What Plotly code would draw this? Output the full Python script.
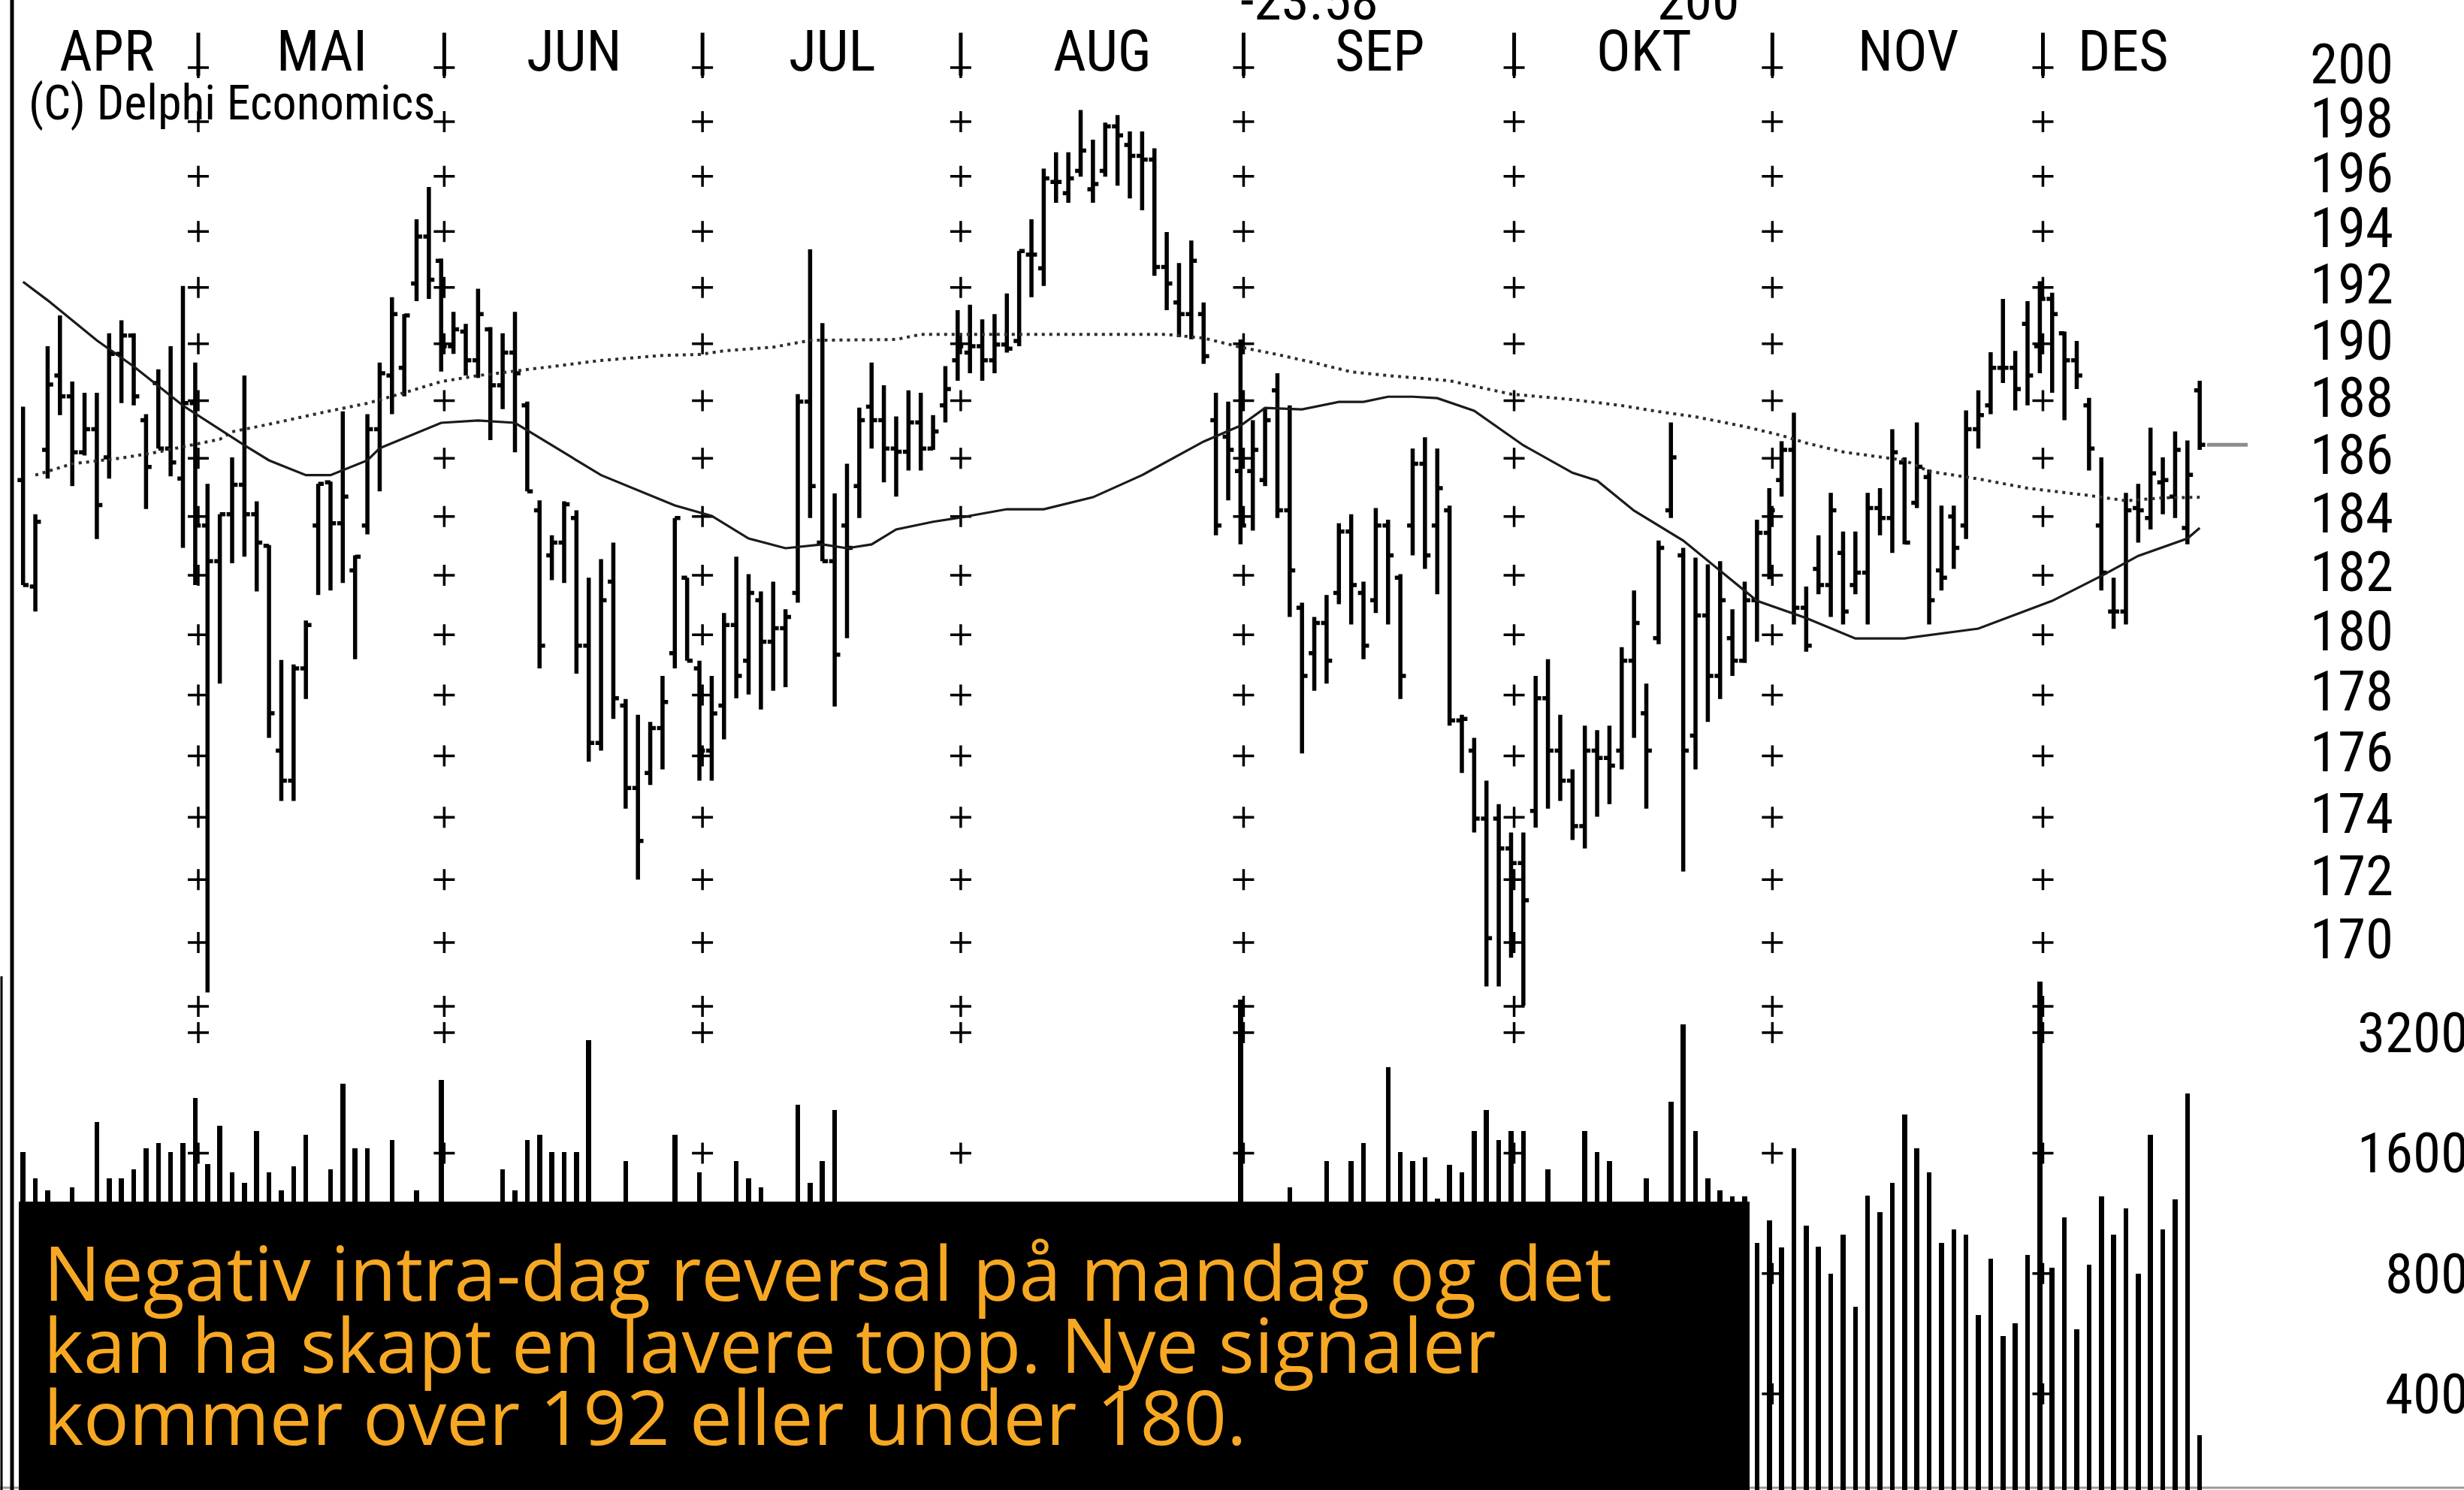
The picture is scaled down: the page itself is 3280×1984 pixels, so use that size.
import math
import plotly.graph_objects as go

W, H = 3280, 1984

# ---------------- data ----------------
months = ["APR", "MAI", "JUN", "JUL", "AUG", "SEP", "OKT", "NOV", "DES"]
month_days = [15, 20, 21, 21, 23, 22, 21, 22, 13]

high = [187.79, 184.08, 189.91, 191.00, 188.67, 188.28, 188.28, 190.37, 190.83, 190.37,
        187.53, 189.10, 189.91, 192.05, 189.34, 185.12, 184.08, 186.03, 188.88, 184.52,
        183.03, 179.16, 179.01, 180.48, 185.12, 185.20, 187.63, 182.68, 187.53, 189.34,
        191.65, 191.05, 194.44, 195.61, 193.03, 191.13, 190.70, 191.95, 190.59, 190.37,
        191.13, 187.97, 184.55, 183.36, 184.52, 184.21, 181.92, 182.55, 183.11, 177.87,
        177.35, 177.11, 178.63, 183.95, 181.92, 179.14, 178.63, 180.73, 182.63, 182.04,
        181.46, 181.79, 180.86, 188.23, 193.36, 190.73, 184.79, 185.81, 187.76, 189.34,
        188.54, 187.45, 188.36, 188.28, 187.50, 189.21, 191.19, 191.38, 190.86, 191.05,
        191.78, 193.30, 194.44, 196.28, 196.88, 196.88, 198.43, 197.34, 197.97, 198.24,
        197.64, 197.64, 197.02, 193.98, 192.87, 193.68, 191.46, 188.28, 187.97, 190.15,
        187.32, 187.76, 188.96, 187.84, 181.08, 180.60, 181.34, 183.77, 184.08, 181.79,
        184.29, 183.89, 182.04, 186.34, 186.73, 186.34, 184.37, 177.35, 176.59, 175.19,
        174.43, 173.51, 173.51, 178.63, 179.19, 177.35, 175.56, 176.99, 176.84, 176.99,
        179.59, 181.49, 178.38, 183.18, 187.24, 182.93, 182.60, 182.37, 182.48, 180.86,
        181.79, 183.89, 184.97, 186.59, 187.58, 181.62, 183.36, 184.81, 183.49, 183.49,
        184.81, 184.97, 187.01, 186.03, 187.24, 185.61, 184.37, 184.37, 187.66, 188.36,
        189.70, 191.59, 189.75, 191.51, 192.22, 191.81, 190.43, 190.10, 188.10, 186.03,
        181.92, 184.81, 185.12, 187.06, 186.03, 186.93, 186.62, 188.70]

low = [181.67, 180.78, 185.30, 187.50, 185.04, 186.10, 183.23, 185.30, 187.92, 187.84,
       184.26, 186.34, 185.38, 182.93, 181.67, 168.43, 178.38, 182.41, 182.63, 181.46,
       176.59, 174.53, 174.53, 177.87, 181.34, 181.49, 181.74, 179.19, 183.39, 184.86,
       187.53, 188.15, 191.51, 191.59, 189.02, 189.64, 188.88, 188.80, 186.63, 187.71,
       186.21, 184.86, 178.88, 181.84, 181.74, 178.71, 175.81, 176.17, 177.21, 174.28,
       172.00, 175.05, 175.56, 178.88, 179.14, 175.19, 175.19, 176.54, 177.89, 178.02,
       177.52, 178.14, 178.26, 181.08, 183.95, 182.48, 177.62, 179.89, 183.95, 186.34,
       185.17, 184.68, 185.58, 185.58, 186.29, 187.24, 188.70, 188.96, 188.70, 188.96,
       189.69, 189.91, 191.65, 192.05, 195.04, 195.04, 195.99, 195.04, 195.99, 195.66,
       195.20, 194.77, 192.41, 191.19, 190.24, 190.16, 189.29, 183.36, 184.55, 183.05,
       183.52, 185.04, 183.95, 180.60, 176.08, 178.14, 178.38, 181.03, 180.35, 179.19,
       180.73, 180.35, 177.87, 182.68, 182.22, 181.36, 176.99, 175.44, 173.51, 168.62,
       168.62, 169.52, 168.02, 173.67, 174.28, 174.53, 173.27, 173.00, 174.02, 174.43,
       175.56, 176.59, 174.28, 179.69, 183.95, 172.26, 175.56, 177.11, 177.87, 178.63,
       179.06, 179.77, 181.87, 184.68, 180.35, 179.44, 181.36, 180.60, 180.35, 181.36,
       180.35, 183.36, 182.76, 183.05, 184.29, 180.35, 181.49, 182.22, 183.23, 186.34,
       187.53, 188.62, 187.66, 187.84, 188.96, 188.28, 187.32, 188.41, 185.58, 181.49,
       180.20, 180.35, 183.11, 183.56, 184.08, 183.95, 183.05, 186.29]

open_ = [185.25, 181.62, 186.29, 188.88, 188.15, 186.21, 187.01, 186.03, 189.64, 190.29,
         187.32, 188.62, 186.34, 185.30, 187.92, 183.69, 182.48, 184.08, 185.09, 184.08,
         183.00, 176.17, 175.19, 178.88, 183.69, 185.17, 183.77, 182.17, 183.69, 187.01,
         188.88, 189.15, 192.14, 193.82, 192.95, 189.91, 190.43, 189.42, 190.51, 188.54,
         189.69, 187.84, 184.21, 182.68, 183.11, 183.95, 179.64, 176.42, 181.79, 177.65,
         174.95, 175.44, 176.91, 179.39, 181.92, 178.88, 176.17, 177.65, 180.33, 179.14,
         181.16, 179.77, 180.22, 181.41, 187.97, 183.11, 182.48, 183.69, 185.04, 187.79,
         187.32, 186.34, 186.23, 187.24, 186.34, 187.84, 189.42, 189.69, 189.91, 189.42,
         189.97, 190.10, 193.17, 192.68, 195.80, 195.39, 196.20, 195.53, 196.20, 197.83,
         197.15, 196.75, 196.61, 192.73, 191.46, 191.05, 191.05, 187.32, 186.75, 185.56,
         185.56, 185.25, 188.36, 184.21, 180.91, 179.39, 180.40, 181.41, 183.49, 181.41,
         181.16, 183.69, 181.92, 183.69, 185.81, 183.69, 184.21, 177.16, 176.17, 173.96,
         173.96, 173.00, 172.53, 174.21, 177.89, 176.17, 175.19, 173.72, 176.17, 175.93,
         176.17, 179.14, 177.40, 179.89, 184.21, 182.68, 176.66, 180.65, 178.63, 179.89,
         179.14, 181.16, 183.44, 185.25, 186.29, 180.91, 182.22, 181.67, 182.76, 181.67,
         182.09, 184.29, 183.95, 185.86, 184.47, 185.35, 182.17, 184.00, 183.69, 187.01,
         187.84, 189.15, 189.15, 190.70, 189.91, 191.59, 190.37, 189.42, 187.84, 183.69,
         180.78, 180.78, 184.29, 183.95, 185.17, 184.68, 183.61, 188.36]

close = [181.67, 183.82, 188.57, 188.15, 186.21, 187.01, 184.39, 189.64, 190.29, 188.15,
         185.70, 186.34, 185.86, 187.92, 183.69, 182.48, 184.08, 185.09, 184.08, 183.11,
         177.40, 175.19, 178.88, 180.33, 185.12, 183.77, 184.68, 182.63, 187.01, 188.96,
         191.05, 191.00, 193.82, 192.27, 189.91, 190.51, 189.42, 191.05, 188.54, 189.69,
         188.96, 184.86, 179.64, 183.11, 184.42, 179.64, 176.42, 181.16, 177.89, 174.95,
         173.24, 176.91, 177.77, 183.95, 179.14, 176.17, 177.39, 180.33, 178.63, 181.41,
         179.77, 180.22, 180.60, 187.97, 185.04, 182.48, 179.34, 182.93, 187.32, 187.32,
         186.34, 186.23, 187.24, 186.34, 186.93, 188.41, 189.91, 189.91, 189.42, 189.97,
         189.83, 193.30, 193.17, 195.93, 195.80, 195.93, 196.94, 195.72, 197.83, 197.50,
         196.75, 196.61, 192.73, 192.14, 191.05, 192.95, 189.56, 183.69, 186.29, 183.69,
         186.29, 187.32, 184.21, 182.17, 178.63, 180.40, 179.14, 183.49, 181.67, 179.64,
         183.69, 182.68, 178.63, 185.81, 182.68, 184.97, 177.16, 177.21, 173.96, 170.14,
         173.00, 172.53, 171.34, 177.89, 176.17, 175.19, 173.72, 176.17, 175.93, 175.68,
         179.14, 180.40, 176.17, 182.93, 186.03, 176.17, 180.65, 178.63, 181.16, 179.14,
         181.16, 183.44, 184.21, 186.29, 180.91, 179.64, 181.67, 184.21, 180.78, 182.09,
         184.29, 183.95, 186.21, 183.11, 185.71, 181.16, 181.92, 182.93, 187.01, 187.50,
         189.15, 189.15, 188.41, 188.88, 191.59, 191.05, 189.42, 188.88, 186.34, 182.09,
         180.78, 184.21, 184.21, 185.48, 185.25, 186.29, 185.43, 186.47]

volume = [1608, 1385, 1290, 1100, 1313, 1050, 1914, 1385, 1385, 1458,
          1643, 1697, 1608, 1697, 2200, 1505, 1873, 1430, 1350, 1815,
          1430, 1290, 1480, 1780, 1100, 1458, 2390, 1643, 1643, 1150,
          1728, 1100, 1290, 1150, 2440, 1100, 1050, 1150, 1000, 1458,
          1290, 1728, 1780, 1608, 1608, 1608, 3060, 1150, 1100, 1530,
          1200, 1100, 1150, 1780, 1150, 1430, 1100, 1050, 1530, 1385,
          1313, 1150, 1100, 2110, 1350, 1530, 2050, 950, 1000, 880,
          1050, 900, 820, 1000, 1100, 950, 870, 1000, 1150, 1050,
          980, 900, 1100, 1000, 1150, 1050, 1120, 980, 1000, 1150,
          1080, 1000, 950, 1100, 1000, 1150, 1050, 1000, 1100, 3880,
          1150, 1100, 1000, 1313, 1100, 1150, 1530, 1050, 1530, 1697,
          1150, 2620, 1608, 1530, 1560, 1230, 1495, 1430, 1815, 2050,
          1728, 1815, 1815, 1100, 1458, 1150, 1050, 1815, 1608, 1530,
          1100, 1000, 1385, 1150, 2150, 3360, 1815, 1385, 1290, 1245,
          1245, 952, 1088, 930, 1643, 1053, 935, 800, 1000, 660,
          1250, 1140, 1350, 2000, 1643, 1430, 952, 1030, 1000, 630,
          870, 558, 600, 890, 4300, 828, 1105, 580, 841, 1245,
          1000, 1163, 800, 1780, 1030, 1225, 2260, 315]

# moving averages (bar index, value)
ma_short_x = [0, 2, 6, 9, 13, 18, 20, 23, 25, 28, 29, 34, 37, 40, 42, 47, 53, 56, 59, 62,
              65, 67, 69, 71, 74, 76, 80, 83, 87, 91, 96, 99, 101, 104, 107, 109, 111, 113, 115, 118,
              122, 126, 128, 131, 135, 138, 141, 145, 149, 153, 159, 165, 169, 172, 176, 177]
ma_short = [192.20, 191.54, 190.12, 189.20, 187.83, 186.45, 185.93, 185.42, 185.42, 185.93,
            186.35, 187.23, 187.31, 187.23, 186.71, 185.42, 184.38, 184.02, 183.25, 182.92,
            183.05, 182.92, 183.05, 183.56, 183.82, 183.95, 184.25, 184.25, 184.66, 185.42,
            186.58, 187.13, 187.75, 187.70, 187.96, 187.96, 188.14, 188.14, 188.09, 187.65,
            186.45, 185.50, 185.23, 184.20, 183.18, 182.16, 181.14, 180.56, 179.88, 179.88,
            180.21, 181.14, 181.98, 182.66, 183.25, 183.61]
ma_long_x = [1, 4, 8, 11, 13, 16, 17, 20, 25, 28, 31, 34, 37, 41, 47, 52, 55, 57, 61, 64,
             71, 73, 93, 96, 99, 102, 105, 108, 111, 116, 121, 126, 130, 133, 136, 140, 143, 145, 148, 153,
             155, 159, 163, 168, 171, 174, 177]
ma_long = [185.42, 185.81, 186.01, 186.22, 186.40, 186.66, 186.92, 187.18, 187.65, 187.91,
           188.28, 188.67, 188.88, 189.09, 189.41, 189.59, 189.62, 189.75, 189.88, 190.12,
           190.15, 190.33, 190.33, 190.20, 189.88, 189.62, 189.33, 189.01, 188.88, 188.70,
           188.23, 188.04, 187.83, 187.62, 187.44, 187.10, 186.79, 186.53, 186.22, 185.93,
           185.55, 185.29, 184.97, 184.72, 184.54, 184.64, 184.66]

price_ticks = [200, 198, 196, 194, 192, 190, 188, 186, 184, 182, 180, 178, 176, 174, 172, 170]
grid_price_levels = [200, 198, 196, 194, 192, 190, 188, 186, 184, 182, 180, 178, 176, 174, 172, 170, 168]
volume_ticks = [3200, 1600, 800, 400]
copyright_text = "(C) Delphi Economics"
top_notes = ["-23.58", "200"]
comment_lines = ["Negativ intra-dag reversal på mandag og det",
                 "kan ha skapt en lavere topp. Nye signaler",
                 "kommer over 192 eller under 180."]

# ---------------- layout calibration ----------------
X0, DX = 30.7, 16.37                    # px of first bar, px per bar
P_REF, P_REF_PX, P_SCALE = 200.0, 90.0, 7169.0
V_REF, V_REF_PX = 400.0, 1856.0
V_PX_PER_DEC = 160.3 / math.log10(2)

xr = [-X0 / DX, (W - X0) / DX]
yr = [math.log10(P_REF) - (H - P_REF_PX) / P_SCALE / math.log(10),
      math.log10(P_REF) + P_REF_PX / P_SCALE / math.log(10)]
vr = [math.log10(V_REF) - (H - V_REF_PX) / V_PX_PER_DEC,
      math.log10(V_REF) + V_REF_PX / V_PX_PER_DEC]

def py(px):
    return 1 - px / H

def px_x(px):
    return px / W

n = len(high)
xs = list(range(n))

NARROW = "Liberation Sans Narrow, Arial Narrow, Roboto Condensed, Liberation Sans, Arial, sans-serif"

fig = go.Figure()

# volume
fig.add_trace(go.Bar(x=xs, y=volume, yaxis="y2", width=0.40,
                     marker=dict(color="black", line=dict(width=0)), hoverinfo="skip"))

# separators / grid crosses
seps = []
cum = 0
for d in month_days[:-1]:
    cum += d
    seps.append(cum - 1 + 0.25)

gx, gy = [], []
for s in seps:
    for lv in grid_price_levels:
        gx.append(s)
        gy.append(lv)
fig.add_trace(go.Scatter(x=gx, y=gy, mode="markers", yaxis="y",
                         marker=dict(symbol="cross-thin", size=20, line=dict(width=3.5, color="black")),
                         hoverinfo="skip"))
vx, vy = [], []
for s in seps:
    for lv in volume_ticks:
        vx.append(s)
        vy.append(lv)
fig.add_trace(go.Scatter(x=vx, y=vy, mode="markers", yaxis="y2",
                         marker=dict(symbol="cross-thin", size=20, line=dict(width=3.5, color="black")),
                         hoverinfo="skip"))
# top separator ticks
TOP_TICK = (199.7, 201.3)
tx, ty = [], []
for s in seps:
    tx += [s, s, None]
    ty += [TOP_TICK[0], TOP_TICK[1], None]
fig.add_trace(go.Scatter(x=tx, y=ty, mode="lines", yaxis="y",
                         line=dict(color="black", width=5), hoverinfo="skip"))

# moving averages
fig.add_trace(go.Scatter(x=ma_long_x, y=ma_long, mode="lines", yaxis="y",
                         line=dict(color="#2e2e2e", width=4, dash="4px,6px"), hoverinfo="skip"))
fig.add_trace(go.Scatter(x=ma_short_x, y=ma_short, mode="lines", yaxis="y",
                         line=dict(color="#1a1a1a", width=3.2), hoverinfo="skip"))

# price bars
fig.add_trace(go.Ohlc(x=xs, open=open_, high=high, low=low, close=close, yaxis="y",
                      increasing=dict(line=dict(color="black", width=5.5)),
                      decreasing=dict(line=dict(color="black", width=5.5)),
                      tickwidth=0.45, hoverinfo="skip"))

# last price marker
fig.add_trace(go.Scatter(x=[n - 1 + 0.6, n - 1 + 3.9], y=[close[-1], close[-1]], mode="lines",
                         yaxis="y", line=dict(color="#8c8c8c", width=5), hoverinfo="skip"))

ann = []
# month labels
start = 0
for m, d in zip(months, month_days):
    mid = start + (d - 1) / 2 - 0.2
    ann.append(dict(x=mid, xref="x", y=py(68), yref="paper", text=m, showarrow=False,
                    xanchor="center", yanchor="middle", font=dict(family=NARROW, size=76, color="black")))
    start += d

ann.append(dict(x=px_x(36), xref="paper", y=py(137), yref="paper", text=copyright_text, showarrow=False,
                xanchor="left", yanchor="middle", font=dict(family=NARROW, size=64, color="black")))

for t, cx in zip(top_notes, [1743, 2261]):
    ann.append(dict(x=px_x(cx), xref="paper", y=py(46), yref="paper", text=t, showarrow=False,
                    xanchor="center", yanchor="bottom", font=dict(family=NARROW, size=74, color="black")))

for v in price_ticks:
    ann.append(dict(x=px_x(3188), xref="paper", y=math.log10(v), yref="y", text=str(v), showarrow=False,
                    xanchor="right", yanchor="middle", yshift=5, font=dict(family=NARROW, size=75, color="black")))
for v in volume_ticks:
    ann.append(dict(x=px_x(3288), xref="paper", y=math.log10(v), yref="y2", text=str(v), showarrow=False,
                    xanchor="right", yanchor="middle", font=dict(family=NARROW, size=75, color="black")))

# comment box text
for k, line in enumerate(comment_lines):
    base = 1731 + 96 * k
    ann.append(dict(x=px_x(56), xref="paper", y=py(base - 38), yref="paper", text=line, showarrow=False,
                    xanchor="left", yanchor="middle",
                    font=dict(family="Open Sans, Lato, sans-serif", size=101, color="#F7A823")))

shapes = [
    dict(type="rect", xref="paper", yref="paper", x0=px_x(25), x1=px_x(2329), y0=0, y1=py(1600),
         fillcolor="black", line=dict(width=0), layer="above"),
    dict(type="line", xref="paper", yref="paper", x0=px_x(16), x1=px_x(16), y0=0, y1=1,
         line=dict(color="black", width=5)),
    dict(type="line", xref="paper", yref="paper", x0=px_x(2), x1=px_x(2), y0=0, y1=py(1300),
         line=dict(color="black", width=3)),
    dict(type="line", xref="paper", yref="paper", x0=0, x1=1, y0=py(1981), y1=py(1981),
         line=dict(color="#9a9a9a", width=3), layer="below"),
]

fig.update_layout(
    width=W, height=H, margin=dict(l=0, r=0, t=0, b=0, pad=0),
    paper_bgcolor="white", plot_bgcolor="white", showlegend=False,
    xaxis=dict(range=xr, visible=False, rangeslider=dict(visible=False), fixedrange=True),
    yaxis=dict(type="log", range=yr, visible=False, domain=[0, 1]),
    yaxis2=dict(type="log", range=vr, visible=False, overlaying="y", domain=[0, 1]),
    annotations=ann, shapes=shapes, bargap=0,
)

fig.write_html("out.html", config={"displayModeBar": False},
               post_script="document.body.style.margin='0px';document.body.style.overflow='hidden';")
